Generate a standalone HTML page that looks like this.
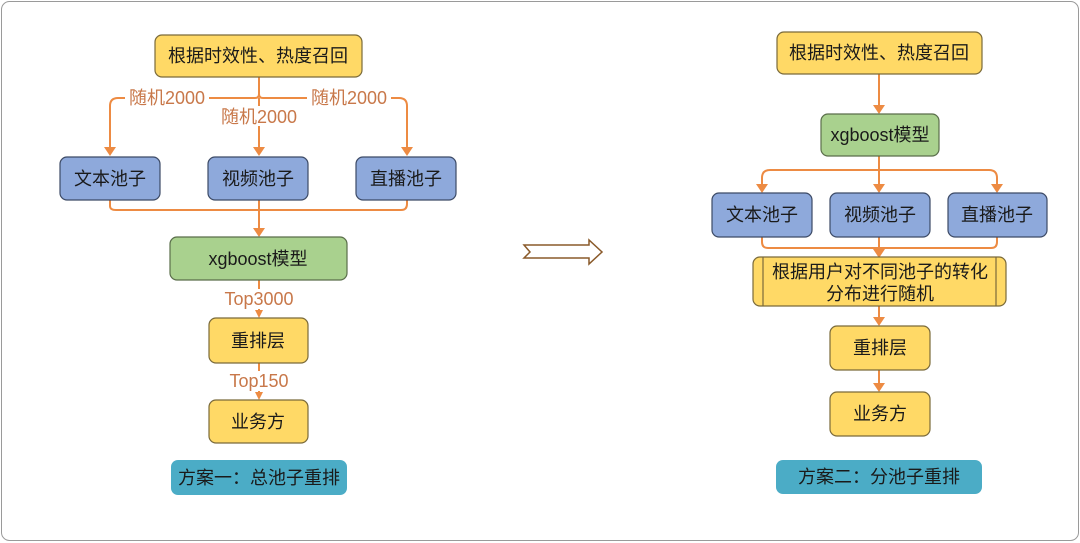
<!DOCTYPE html>
<html><head><meta charset="utf-8"><style>
html,body{margin:0;padding:0;background:#fff;}
svg{display:block;}
text{font-family:"Liberation Sans","Noto Sans CJK SC",sans-serif;}
</style></head><body>
<svg width="1080" height="543" viewBox="0 0 1080 543" xmlns="http://www.w3.org/2000/svg">
<rect x="1.5" y="1.5" width="1077" height="539" rx="8" fill="#fff" stroke="#9a9a9a" stroke-width="1"/>
<g fill="none" stroke="#ED8B43" stroke-width="2">
<path d="M259 77 V94 Q259 98 255 98 H118 Q110 98 110 106 V148"/>
<path d="M259 94 Q259 98 263 98 H399 Q407 98 407 106 V148"/>
<path d="M259 98 V148"/>
<path d="M110 200 V206 Q110 210 116 210 H401 Q407 210 407 204 V200"/>
<path d="M259 200 V229"/>
<path d="M259 280 V311"/>
<path d="M259 363 V393"/>
<path d="M879 74 V106"/>
<path d="M879 156 V185"/>
<path d="M879 170 H770 Q762 170 762 178 V185"/>
<path d="M879 170 H989 Q997 170 997 178 V185"/>
<path d="M762 237 V242 Q762 248 768 248 H991 Q997 248 997 242 V237"/>
<path d="M879 237 V250"/>
<path d="M879 306 V318"/>
<path d="M879 370 V384"/>
</g>
<g fill="#ED8B43">
<path d="M104 147 L116 147 L110 156 Z"/>
<path d="M253 147 L265 147 L259 156 Z"/>
<path d="M401 147 L413 147 L407 156 Z"/>
<path d="M253 228 L265 228 L259 237 Z"/>
<path d="M255 310 L263 310 L259 318 Z"/>
<path d="M255 392 L263 392 L259 400 Z"/>
<path d="M873 105 L885 105 L879 114 Z"/>
<path d="M756 184 L768 184 L762 193 Z"/>
<path d="M873 184 L885 184 L879 193 Z"/>
<path d="M991 184 L1003 184 L997 193 Z"/>
<path d="M873 249 L885 249 L879 258 Z"/>
<path d="M873 317 L885 317 L879 326 Z"/>
<path d="M873 383 L885 383 L879 392 Z"/>
</g>
<g font-size="18" fill="#C8784A" text-anchor="middle">
<rect x="125" y="88" width="84" height="20" fill="#fff"/>
<text x="167" y="104">随机2000</text>
<rect x="307" y="88" width="84" height="20" fill="#fff"/>
<text x="349" y="104">随机2000</text>
<rect x="217" y="106" width="84" height="20" fill="#fff"/>
<text x="259" y="123">随机2000</text>
<rect x="220" y="289" width="78" height="20" fill="#fff"/>
<text x="259" y="305">Top3000</text>
<rect x="224" y="371" width="70" height="20" fill="#fff"/>
<text x="259" y="387">Top150</text>
</g>
<g stroke="#7a6a3a" stroke-width="1.2">
<rect x="155" y="35" width="207" height="42" rx="7" fill="#FFD966"/>
<rect x="60" y="157" width="100" height="43" rx="7" fill="#8EA9DB" stroke="#3c4a66"/>
<rect x="208" y="157" width="100" height="43" rx="7" fill="#8EA9DB" stroke="#3c4a66"/>
<rect x="356" y="157" width="100" height="43" rx="7" fill="#8EA9DB" stroke="#3c4a66"/>
<rect x="170" y="237" width="177" height="43" rx="7" fill="#A9D18E" stroke="#5a6e4a"/>
<rect x="209" y="318" width="99" height="45" rx="7" fill="#FFD966"/>
<rect x="209" y="400" width="99" height="43" rx="7" fill="#FFD966"/>
<rect x="171" y="460" width="176" height="35" rx="7" fill="#4BACC6" stroke="none"/>
<rect x="777" y="32" width="205" height="42" rx="7" fill="#FFD966"/>
<rect x="821" y="114" width="118" height="42" rx="7" fill="#A9D18E" stroke="#5a6e4a"/>
<rect x="712" y="193" width="100" height="44" rx="7" fill="#8EA9DB" stroke="#3c4a66"/>
<rect x="830" y="193" width="100" height="44" rx="7" fill="#8EA9DB" stroke="#3c4a66"/>
<rect x="948" y="193" width="99" height="44" rx="7" fill="#8EA9DB" stroke="#3c4a66"/>
<rect x="753" y="257" width="253" height="49" rx="7" fill="#FFD966"/>
<line x1="763" y1="257" x2="763" y2="306"/>
<line x1="996" y1="257" x2="996" y2="306"/>
<rect x="830" y="326" width="100" height="44" rx="7" fill="#FFD966"/>
<rect x="830" y="392" width="100" height="44" rx="7" fill="#FFD966"/>
<rect x="776" y="460" width="206" height="34" rx="7" fill="#4BACC6" stroke="none"/>
</g>
<path d="M524 245 H589 V240 L602 252 L589 264 V258 H524 L530 252 Z" fill="#fff" stroke="#8a5a2a" stroke-width="1.5"/>
<g font-size="18" fill="#1a1a1a" text-anchor="middle">
<text x="258" y="62">根据时效性、热度召回</text>
<text x="110" y="185">文本池子</text>
<text x="258" y="185">视频池子</text>
<text x="406" y="185">直播池子</text>
<text x="258" y="265">xgboost模型</text>
<text x="258" y="347">重排层</text>
<text x="258" y="428">业务方</text>
<text x="259" y="484">方案一：总池子重排</text>
<text x="879" y="59">根据时效性、热度召回</text>
<text x="880" y="141">xgboost模型</text>
<text x="762" y="221">文本池子</text>
<text x="880" y="221">视频池子</text>
<text x="997" y="221">直播池子</text>
<text x="880" y="278">根据用户对不同池子的转化</text>
<text x="880" y="300">分布进行随机</text>
<text x="880" y="354">重排层</text>
<text x="880" y="420">业务方</text>
<text x="879" y="483">方案二：分池子重排</text>
</g>
</svg>
</body></html>
